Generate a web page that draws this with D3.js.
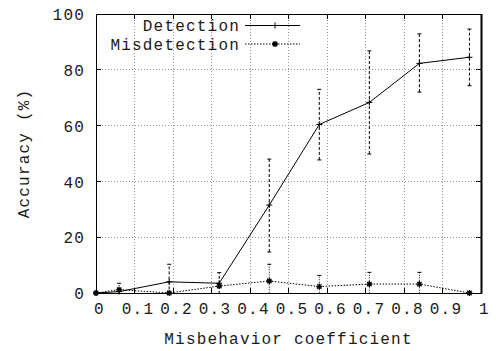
<!DOCTYPE html>
<html>
<head>
<meta charset="utf-8">
<script src="https://cdn.jsdelivr.net/npm/d3@7"></script>
<style>
  html, body { margin: 0; padding: 0; background: #fff; }
  svg { display: block; }
  text { font-family: "Liberation Mono", "DejaVu Sans Mono", monospace; fill: #1a1a1a; letter-spacing: 1.2px; }
</style>
</head>
<body>
<svg id="chart" width="496" height="351"></svg>
<script>
// ---- data ----
const xValues       = [0, 0.06, 0.19, 0.32, 0.45, 0.58, 0.71, 0.84, 0.97];
const detection     = [0, 0.5, 4, 3.5, 31.5, 60.4, 68.3, 82.3, 84.5];
const detectionLow  = [0, 0.5, -2.3, -0.3, 14.7, 47.7, 49.8, 72, 74.3];
const detectionHigh = [0, 0.5, 10.3, 7.3, 48, 73, 86.8, 92.9, 94.6];
const misdetection     = [0, 1.2, 0, 2.5, 4.3, 2.3, 3.2, 3.2, 0];
const misdetectionLow  = [0, -1.1, 0, 2.5, -1.7, -1.7, -1.0, -1.0, 0];
const misdetectionHigh = [0, 3.5, 0, 2.5, 10.3, 6.3, 7.4, 7.4, 0];
const xTicks = [0, 0.1, 0.2, 0.3, 0.4, 0.5, 0.6, 0.7, 0.8, 0.9, 1];
const yTicks = [0, 20, 40, 60, 80, 100];
const seriesNames = ["Detection", "Misdetection"];
const xTitle = "Misbehavior coefficient";
const yTitle = "Accuracy (%)";

// ---- layout ----
const W = 496, H = 351;
const L = 96, R = 481, T = 14, B = 293;
const FONT = 16;

const svg = d3.select("#chart");
const x = d3.scaleLinear().domain([0, 1]).range([L, R]);
const y = d3.scaleLinear().domain([0, 100]).range([B, T]);

// clip
svg.append("defs").append("clipPath").attr("id", "plotclip")
  .append("rect").attr("x", L).attr("y", T).attr("width", R - L).attr("height", B - T);

// grid
const grid = svg.append("g").attr("stroke", "#9a9a9a").attr("stroke-width", 1)
  .attr("stroke-dasharray", "1,2").attr("shape-rendering", "crispEdges");
grid.selectAll("line.gx").data(xTicks.filter(d => d > 0 && d < 1)).join("line")
  .attr("x1", d => x(d)).attr("x2", d => x(d)).attr("y1", T).attr("y2", B);
grid.selectAll("line.gy").data(yTicks.filter(d => d > 0 && d < 100)).join("line")
  .attr("class", "gy")
  .attr("x1", L).attr("x2", R).attr("y1", d => y(d)).attr("y2", d => y(d));

// axes (labels)
const xAxis = d3.axisBottom(x).tickValues(xTicks).tickFormat(d3.format("")).tickSize(0);
const gx = svg.append("g").attr("transform", `translate(0,${B})`).call(xAxis);
gx.select(".domain").remove();
gx.selectAll("text").attr("y", 20.5).attr("dy", 0).attr("dx", 3)
  .style("font-size", FONT + "px").style("font-family", "Liberation Mono, monospace").attr("fill", "#1a1a1a");

const yAxis = d3.axisLeft(y).tickValues(yTicks).tickFormat(d3.format("d")).tickSize(0);
const gy = svg.append("g").attr("transform", `translate(${L},0)`).call(yAxis);
gy.select(".domain").remove();
gy.selectAll("text").attr("x", -11).attr("dy", "0.36em")
  .style("font-size", FONT + "px").style("font-family", "Liberation Mono, monospace").attr("fill", "#1a1a1a");

// inward tick marks on all four sides
const tk = svg.append("g").attr("stroke", "#000").attr("stroke-width", 1).attr("shape-rendering", "crispEdges");
const TL = 5;
xTicks.forEach(d => {
  tk.append("line").attr("x1", x(d)).attr("x2", x(d)).attr("y1", B).attr("y2", B - TL);
  tk.append("line").attr("x1", x(d)).attr("x2", x(d)).attr("y1", T).attr("y2", T + TL);
});
yTicks.forEach(d => {
  tk.append("line").attr("x1", L).attr("x2", L + TL).attr("y1", y(d)).attr("y2", y(d));
  tk.append("line").attr("x1", R).attr("x2", R - TL).attr("y1", y(d)).attr("y2", y(d));
});

// border
svg.append("rect").attr("x", L).attr("y", T).attr("width", R - L).attr("height", B - T)
  .attr("fill", "none").attr("stroke", "#000").attr("stroke-width", 1).attr("shape-rendering", "crispEdges");
svg.append("line").attr("x1", R + 0.5).attr("x2", R + 0.5).attr("y1", T).attr("y2", B + 0.5)
  .attr("stroke", "#000").attr("stroke-width", 2);

// titles
svg.append("text").attr("x", (L + R) / 2).attr("y", 344).attr("text-anchor", "middle")
  .style("font-size", FONT + "px").text(xTitle);
svg.append("text").attr("transform", `translate(29,${(T + B) / 2}) rotate(-90)`)
  .attr("text-anchor", "middle").style("font-size", FONT + "px").text(yTitle);

// marks
const plot = svg.append("g");
const clipped = plot.append("g").attr("clip-path", "url(#plotclip)");

function errorBars(vals, lows, highs, dash) {
  const data = xValues.map((xv, i) => ({ x: xv, lo: lows[i], hi: highs[i] }))
    .filter(d => d.hi - d.lo > 0.05);
  const g = clipped.append("g").attr("stroke", "#000").attr("stroke-width", 1);
  g.selectAll("line.v").data(data).join("line")
    .attr("stroke-dasharray", dash)
    .attr("x1", d => x(d.x)).attr("x2", d => x(d.x))
    .attr("y1", d => y(d.lo)).attr("y2", d => y(d.hi));
  g.selectAll("line.cl").data(data).join("line").attr("class", "cl")
    .attr("x1", d => x(d.x) - 2).attr("x2", d => x(d.x) + 2)
    .attr("y1", d => y(d.lo)).attr("y2", d => y(d.lo));
  g.selectAll("line.ch").data(data).join("line").attr("class", "ch")
    .attr("x1", d => x(d.x) - 2).attr("x2", d => x(d.x) + 2)
    .attr("y1", d => y(d.hi)).attr("y2", d => y(d.hi));
}
errorBars(detection, detectionLow, detectionHigh, "3,2");
errorBars(misdetection, misdetectionLow, misdetectionHigh, "1,1.5");

const line = d3.line().x(d => x(d[0])).y(d => y(d[1]));
clipped.append("path").datum(xValues.map((v, i) => [v, misdetection[i]]))
  .attr("d", line).attr("fill", "none").attr("stroke", "#000").attr("stroke-width", 1)
  .attr("stroke-dasharray", "1.5,1.5");
clipped.append("path").datum(xValues.map((v, i) => [v, detection[i]]))
  .attr("d", line).attr("fill", "none").attr("stroke", "#000").attr("stroke-width", 1);

const plusPath = "M-3,0H3M0,-3V3";
const starPath = "M-3,0H3M0,-3V3M-2.2,-2.2L2.2,2.2M-2.2,2.2L2.2,-2.2";
plot.selectAll("path.pp").data(xValues.map((v, i) => [v, detection[i]])).join("path")
  .attr("class", "pp").attr("d", plusPath)
  .attr("transform", d => `translate(${x(d[0])},${y(d[1])})`)
  .attr("stroke", "#000").attr("stroke-width", 1).attr("fill", "none");
plot.selectAll("path.sp").data(xValues.map((v, i) => [v, misdetection[i]])).join("path")
  .attr("class", "sp").attr("d", starPath)
  .attr("transform", d => `translate(${x(d[0])},${y(d[1])})`)
  .attr("stroke", "#000").attr("stroke-width", 1.3).attr("fill", "none");

// legend
const leg = svg.append("g");
const legRows = [
  { name: seriesNames[0], dy: 25.5, dash: null, mark: plusPath, sw: 1 },
  { name: seriesNames[1], dy: 44, dash: "1.5,1.5", mark: starPath, sw: 1.3 }
];
legRows.forEach(r => {
  leg.append("text").attr("x", 240).attr("y", r.dy).attr("dy", "0.35em")
    .attr("text-anchor", "end").style("font-size", FONT + "px").text(r.name);
  leg.append("line").attr("x1", 245).attr("x2", 300).attr("y1", r.dy).attr("y2", r.dy)
    .attr("stroke", "#000").attr("stroke-width", 1).attr("stroke-dasharray", r.dash);
  leg.append("path").attr("d", r.mark).attr("transform", `translate(275,${r.dy})`)
    .attr("stroke", "#000").attr("stroke-width", r.sw).attr("fill", "none");
});
</script>
</body>
</html>
